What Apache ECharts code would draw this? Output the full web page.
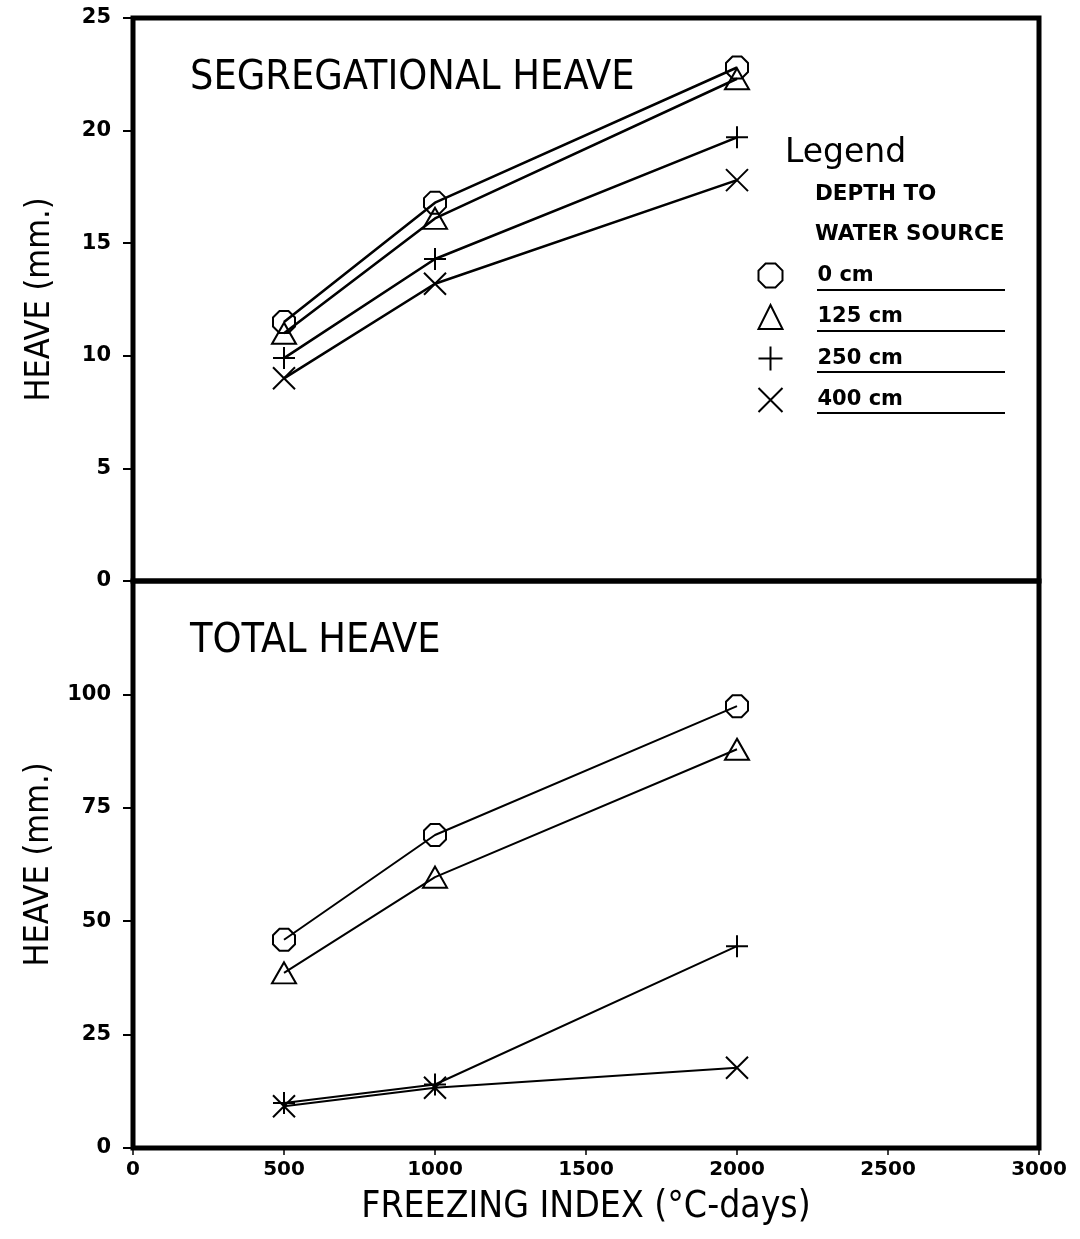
<!DOCTYPE html>
<html>
<head>
<meta charset="utf-8">
<script src="https://cdn.jsdelivr.net/npm/echarts@6/dist/echarts.min.js"></script>
<style>
  html, body { margin: 0; padding: 0; background: #fff; }
  #chart { width: 1080px; height: 1239px; }
</style>
</head>
<body>
<div id="chart"></div>
<script>
// Freezing index (°C-days) at which heave was computed
const freezingIndex = [500, 1000, 2000];

// Depth-to-water-source categories
const depthNames = ['0 cm', '125 cm', '250 cm', '400 cm'];

// Segregational heave (mm)
const segHeave0   = [11.5, 16.8, 22.8];
const segHeave125 = [11.0, 16.1, 22.3];
const segHeave250 = [9.9, 14.3, 19.7];
const segHeave400 = [9.0, 13.2, 17.8];

// Total heave (mm)
const totHeave0   = [45.9, 69.0, 97.4];
const totHeave125 = [38.6, 59.7, 87.9];
const totHeave250 = [9.9, 14.0, 44.5];
const totHeave400 = [9.2, 13.3, 17.7];

// Axis ticks
const xTicks = { min: 0, max: 3000, interval: 500 };
const segTicks = { min: 0, max: 25, interval: 5 };
const totTicks = { min: 0, max: 125, interval: 25 };

// Marker shapes for each depth
const markerPaths = {
  '0 cm':   'path://M-0.41,-1 L0.41,-1 L1,-0.41 L1,0.41 L0.41,1 L-0.41,1 L-1,0.41 L-1,-0.41 Z',
  '125 cm': 'path://M0,-1 L1,1 L-1,1 Z',
  '250 cm': 'path://M0,-1 L0,1 M-1,0 L1,0',
  '400 cm': 'path://M-1,-1 L1,1 M-1,1 L1,-1'
};
const markerSizes = {
  '0 cm': [22, 22], '125 cm': [24, 21], '250 cm': [22, 22], '400 cm': [22, 22]
};

const segSets = [segHeave0, segHeave125, segHeave250, segHeave400];
const totSets = [totHeave0, totHeave125, totHeave250, totHeave400];

const LABEL_FONT = 'DejaVu Sans';
const TITLE_FONT = '"DejaVu Sans Condensed", "Liberation Sans Narrow", "DejaVu Sans", sans-serif';

function makeSeries(values, name, panel, lw) {
  return {
    type: 'line',
    name: name,
    xAxisIndex: panel,
    yAxisIndex: panel,
    data: freezingIndex.map((x, i) => [x, values[i]]),
    symbol: markerPaths[name],
    symbolSize: markerSizes[name],
    showAllSymbol: true,
    lineStyle: { color: '#000', width: lw },
    itemStyle: { color: 'none', borderColor: '#000', borderWidth: 2 },
    emphasis: { disabled: true },
    silent: true,
    z: 3
  };
}

const series = [];
depthNames.forEach((n, i) => series.push(makeSeries(segSets[i], n, 0, 2.6)));
depthNames.forEach((n, i) => series.push(makeSeries(totSets[i], n, 1, 2)));

const yLabelStyle = {
  color: '#000', fontFamily: LABEL_FONT, fontWeight: 'bold', fontSize: 21, margin: 22
};
const yNameStyle = {
  color: '#000', fontFamily: TITLE_FONT, fontSize: 34
};

const chart = echarts.init(document.getElementById('chart'), null, { renderer: 'canvas' });
chart.setOption({
  animation: false,
  backgroundColor: '#fff',
  grid: [
    { left: 133, top: 18, width: 906, height: 563, show: true, borderColor: '#000', borderWidth: 5, backgroundColor: 'transparent' },
    { left: 133, top: 581, width: 906, height: 567, show: true, borderColor: '#000', borderWidth: 5, backgroundColor: 'transparent' }
  ],
  xAxis: [
    {
      gridIndex: 0, type: 'value', min: xTicks.min, max: xTicks.max, interval: xTicks.interval,
      axisLine: { show: false }, axisTick: { show: false }, axisLabel: { show: false }, splitLine: { show: false }
    },
    {
      gridIndex: 1, type: 'value', min: xTicks.min, max: xTicks.max, interval: xTicks.interval,
      axisLine: { show: false },
      axisTick: { show: true, length: 7, lineStyle: { color: '#000', width: 1.5 } },
      axisLabel: {
        color: '#000', fontFamily: LABEL_FONT, fontWeight: 'bold', fontSize: 20, margin: 12,
        formatter: v => String(v)
      },
      splitLine: { show: false },
      name: 'FREEZING INDEX (°C-days)',
      nameLocation: 'middle',
      nameGap: 41,
      nameTextStyle: { color: '#000', fontFamily: TITLE_FONT, fontSize: 37 }
    }
  ],
  yAxis: [
    {
      gridIndex: 0, type: 'value', min: segTicks.min, max: segTicks.max, interval: segTicks.interval,
      axisLine: { show: false },
      axisTick: { show: true, length: 10, lineStyle: { color: '#000', width: 2 } },
      axisLabel: Object.assign({}, yLabelStyle, { formatter: v => String(v) }),
      splitLine: { show: false },
      name: 'HEAVE (mm.)', nameLocation: 'middle', nameGap: 76, nameRotate: 90,
      nameTextStyle: yNameStyle
    },
    {
      gridIndex: 1, type: 'value', min: totTicks.min, max: totTicks.max, interval: totTicks.interval,
      axisLine: { show: false },
      axisTick: { show: true, length: 10, lineStyle: { color: '#000', width: 2 } },
      axisLabel: Object.assign({}, yLabelStyle, {
        formatter: v => (v === totTicks.max ? '' : String(v))
      }),
      splitLine: { show: false },
      name: 'HEAVE (mm.)', nameLocation: 'middle', nameGap: 76, nameRotate: 90,
      nameTextStyle: yNameStyle
    }
  ],
  legend: {
    orient: 'vertical',
    left: 751,
    top: 256,
    itemWidth: 84,
    itemHeight: 24,
    itemGap: 12.5,
    selectedMode: false,
    itemStyle: { color: 'none', borderColor: '#000', borderWidth: 2 },
    textStyle: { color: '#000', fontFamily: LABEL_FONT, fontWeight: 'bold', fontSize: 21 },
    data: depthNames.map(n => ({ name: n, icon: markerPaths[n] }))
  },
  graphic: [
    { type: 'text', left: 190, top: 58, style: { text: 'SEGREGATIONAL HEAVE', fill: '#000', font: '41px ' + TITLE_FONT } },
    { type: 'text', left: 190, top: 621, style: { text: 'TOTAL HEAVE', fill: '#000', font: '41px ' + TITLE_FONT } },
    { type: 'text', left: 785, top: 137, style: { text: 'Legend', fill: '#000', font: '33px "DejaVu Sans", sans-serif' } },
    { type: 'text', left: 815, top: 183, style: { text: 'DEPTH TO', fill: '#000', font: 'bold 21.5px "DejaVu Sans", sans-serif' } },
    { type: 'text', left: 815, top: 223, style: { text: 'WATER SOURCE', fill: '#000', font: 'bold 21.5px "DejaVu Sans", sans-serif' } },
    { type: 'line', shape: { x1: 817, y1: 290, x2: 1005, y2: 290 }, style: { stroke: '#000', lineWidth: 2 } },
    { type: 'line', shape: { x1: 817, y1: 331, x2: 1005, y2: 331 }, style: { stroke: '#000', lineWidth: 2 } },
    { type: 'line', shape: { x1: 817, y1: 372, x2: 1005, y2: 372 }, style: { stroke: '#000', lineWidth: 2 } },
    { type: 'line', shape: { x1: 817, y1: 413, x2: 1005, y2: 413 }, style: { stroke: '#000', lineWidth: 2 } }
  ],
  series: series
});
</script>
</body>
</html>
